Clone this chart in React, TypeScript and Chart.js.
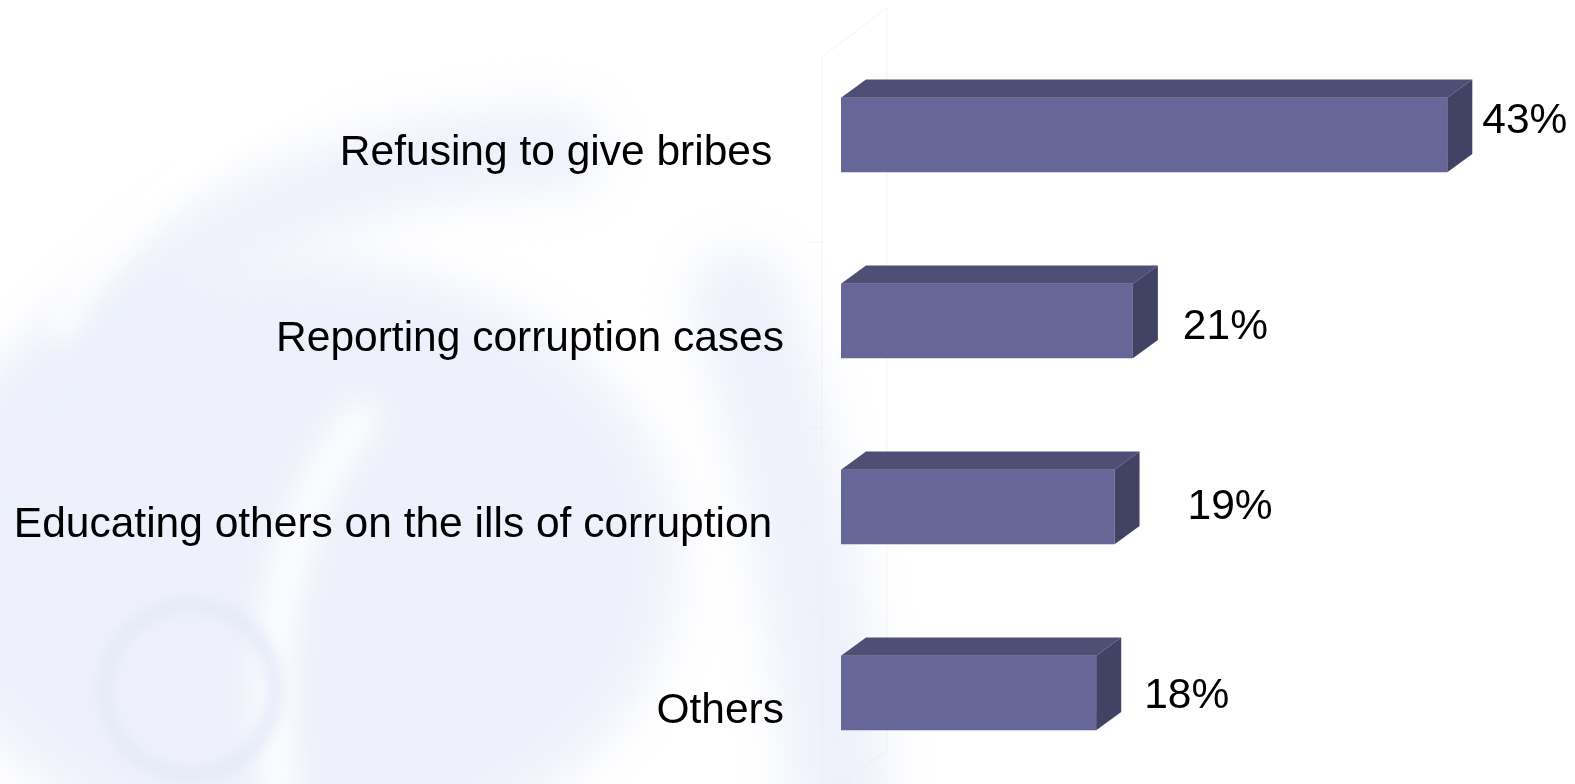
import React, { useEffect, useRef } from "react";
import { Chart, registerables } from "chart.js";

Chart.register(...registerables);

// ---- data ----
const categories = [
  "Refusing to give bribes ",
  "Reporting corruption cases",
  "Educating others on the ills of corruption ",
  "Others",
];
const shares = [43.0, 20.7, 19.4, 18.1];
const valueLabels = ["43%", "21%", "19%", "18%"];

// ---- layout / style config ----
const W = 1575;
const H = 784;
const CANVAS_H = 786;
const FONT = '"Liberation Sans", Arial, Helvetica, sans-serif';
const FONT_SIZE = 42.5;
const FRONT = "#666699";
const TOP = "#4f4f76";
const SIDE = "#424264";
const DEPTH_X = 25;
const DEPTH_Y = 18.3;
const labelNudge = [
  [10, -14],
  [25, 6],
  [48, 0],
  [23, 3],
];

function drawBackground(ctx: CanvasRenderingContext2D, w: number, h: number) {
  ctx.save();
  ctx.fillStyle = "#ffffff";
  ctx.fillRect(0, 0, w, h);
  ctx.filter = "blur(24px)";
  // main lavender body
  ctx.fillStyle = "rgba(236,239,251,0.9)";
  ctx.beginPath();
  ctx.ellipse(300, 560, 380, 300, 0, 0, Math.PI * 2);
  ctx.fill();
  // upper arc band
  ctx.strokeStyle = "rgba(236,239,251,0.9)";
  ctx.lineWidth = 85;
  ctx.lineCap = "round";
  ctx.beginPath();
  ctx.ellipse(560, 640, 590, 490, 0, Math.PI * 1.02, Math.PI * 1.5);
  ctx.stroke();
  // right band
  ctx.lineWidth = 100;
  ctx.beginPath();
  ctx.moveTo(740, 300);
  ctx.quadraticCurveTo(810, 500, 840, 800);
  ctx.stroke();
  // white streaks
  ctx.filter = "blur(14px)";
  ctx.strokeStyle = "rgba(255,255,255,0.8)";
  ctx.lineWidth = 30;
  ctx.beginPath();
  ctx.moveTo(60, 330);
  ctx.quadraticCurveTo(150, 150, 320, 95);
  ctx.stroke();
  ctx.lineWidth = 40;
  ctx.beginPath();
  ctx.moveTo(360, 420);
  ctx.quadraticCurveTo(250, 560, 280, 790);
  ctx.stroke();
  // ring
  ctx.filter = "blur(6px)";
  ctx.strokeStyle = "rgba(228,232,248,0.8)";
  ctx.lineWidth = 16;
  ctx.beginPath();
  ctx.arc(190, 690, 85, 0, Math.PI * 2);
  ctx.stroke();
  ctx.restore();
}

const bgPlugin = {
  id: "bg3d",
  beforeDraw(chart: any) {
    const { ctx, width, height, chartArea } = chart;
    drawBackground(ctx, width, height);
    // faint 3D wall outline
    const step = (chartArea.bottom - chartArea.top) / categories.length;
    const fx = chartArea.left - 19;
    const bx = fx + 65;
    const fTop = chartArea.top + 15;
    const fBot = chartArea.bottom + 13;
    ctx.save();
    ctx.strokeStyle = "rgba(235,235,235,0.6)";
    ctx.lineWidth = 1;
    ctx.beginPath();
    ctx.moveTo(fx, fBot);
    ctx.lineTo(fx, fTop);
    ctx.lineTo(bx, fTop - 49);
    ctx.lineTo(bx, fBot - 49);
    ctx.lineTo(fx, fBot);
    for (let i = 1; i < categories.length; i++) {
      const y = chartArea.top + step * i + 14;
      ctx.moveTo(fx - 13, y);
      ctx.lineTo(fx, y);
    }
    ctx.stroke();
    ctx.restore();
  },
};

const barsPlugin = {
  id: "bars3d",
  afterDatasetsDraw(chart: any) {
    const { ctx } = chart;
    const meta = chart.getDatasetMeta(0);
    ctx.save();
    meta.data.forEach((bar: any, i: number) => {
      const { x, y, base, height } = bar.getProps(["x", "y", "base", "height"], true);
      const top = y - height / 2;
      const bottom = y + height / 2;
      // top face
      ctx.fillStyle = TOP;
      ctx.beginPath();
      ctx.moveTo(base, top);
      ctx.lineTo(base + DEPTH_X, top - DEPTH_Y);
      ctx.lineTo(x + DEPTH_X, top - DEPTH_Y);
      ctx.lineTo(x, top);
      ctx.closePath();
      ctx.fill();
      // side face
      ctx.fillStyle = SIDE;
      ctx.beginPath();
      ctx.moveTo(x, top);
      ctx.lineTo(x + DEPTH_X, top - DEPTH_Y);
      ctx.lineTo(x + DEPTH_X, bottom - DEPTH_Y);
      ctx.lineTo(x, bottom);
      ctx.closePath();
      ctx.fill();
      // value label
      ctx.fillStyle = "#000000";
      ctx.font = `${FONT_SIZE}px ${FONT}`;
      ctx.textAlign = "left";
      ctx.textBaseline = "middle";
      const [nx, ny] = labelNudge[i];
      ctx.fillText(valueLabels[i], x + DEPTH_X + nx, y + ny);
    });
    ctx.restore();
  },
};

export default function App() {
  const ref = useRef<HTMLCanvasElement | null>(null);
  useEffect(() => {
    document.body.style.margin = "0";
    const canvas = ref.current!;
    const chart = new Chart(canvas, {
      type: "bar",
      data: {
        labels: categories,
        datasets: [
          {
            data: shares,
            backgroundColor: FRONT,
            borderWidth: 0,
            barPercentage: 0.4,
            categoryPercentage: 1,
          },
        ],
      },
      options: {
        indexAxis: "y",
        responsive: false,
        animation: false,
        devicePixelRatio: 1,
        layout: { padding: { top: 42, right: 29, bottom: 0, left: 0 } },
        plugins: {
          legend: { display: false },
          tooltip: { enabled: false },
          title: { display: false },
        },
        scales: {
          x: { display: false, min: 0, max: 50 },
          y: {
            position: "left",
            grid: { display: false, drawTicks: false },
            border: { display: false },
            afterFit: (s: any) => {
              s.width = 841;
              s.paddingTop = 0;
              s.paddingBottom = 0;
            },
            ticks: {
              padding: 57,
              labelOffset: 18,
              color: "#000000",
              font: { family: FONT, size: FONT_SIZE },
              autoSkip: false,
            },
          },
        },
      },
      plugins: [bgPlugin, barsPlugin],
    } as any);
    return () => chart.destroy();
  }, []);
  return (
    <div
      style={{
        position: "absolute",
        left: 0,
        top: 0,
        width: W,
        height: H,
        overflow: "hidden",
      }}
    >
      <canvas ref={ref} width={W} height={CANVAS_H} style={{ display: "block", width: W, height: CANVAS_H }} />
    </div>
  );
}
